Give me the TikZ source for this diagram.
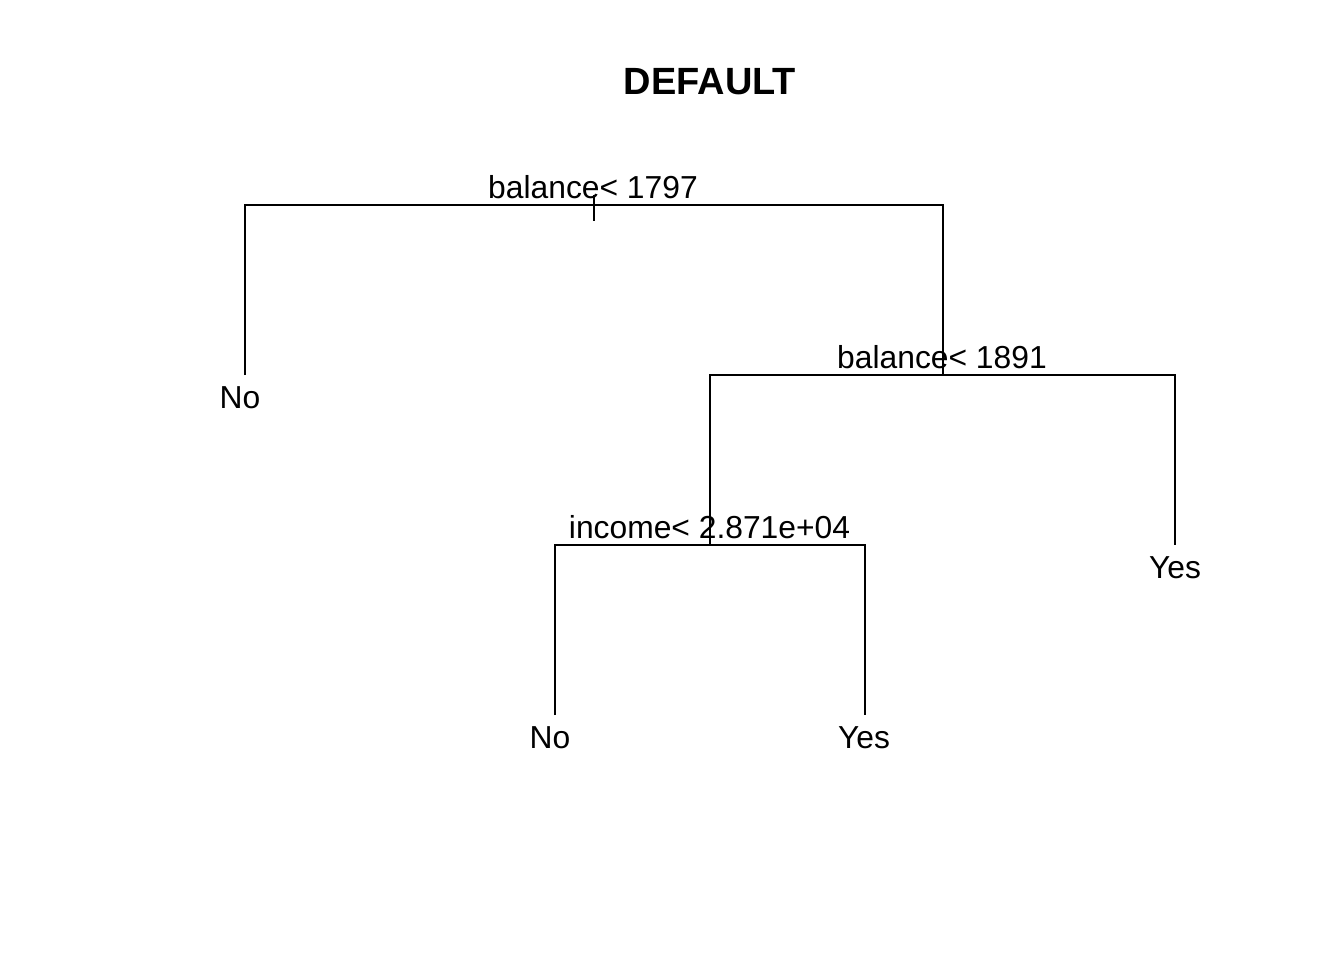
\documentclass[tikz,border=0pt]{standalone}
\usepackage{fontspec}
\setmainfont{Liberation Sans}
\usepackage{tikz}

\begin{document}
\begin{tikzpicture}[x=0.02cm,y=-0.02cm,line width=1.1pt,
  split/.style={anchor=base,inner sep=0pt,font=\fontsize{18.1}{21}\selectfont},
  leaf/.style={anchor=base,inner sep=0pt,font=\fontsize{18.1}{21}\selectfont}] %sets scale and styles
   \useasboundingbox (0,0) rectangle (1344,960); % page size
   \node[anchor=base,inner sep=0pt,font=\bfseries\fontsize{21.6}{25}\selectfont] (title) at (710,94) {DEFAULT};
   % split points of the tree
   \coordinate (s1) at (594,205);
   \coordinate (s2) at (943,375);
   \coordinate (s3) at (710,545);
   % ends of the leaves
   \coordinate (no1) at (245,375);
   \coordinate (yes1) at (1175,545);
   \coordinate (no2) at (555,715);
   \coordinate (yes2) at (865,715);
   \draw (no1) |- (s1) -| (s2); %root split
   \draw (s3) |- (s2) -| (yes1); %second split
   \draw (no2) |- (s3) -| (yes2); %third split
   \draw (s1) ++(0,-10) -- ++(0,26); %root tick
   % labels of the splits
   \node[split] (l1) at (593,198) {balance< 1797};
   \node[split] (l2) at (942,368) {balance< 1891};
   \node[split] (l3) at (709.5,538) {income< 2.871e+04};
   % labels of the leaves
   \node[leaf] (tno1) at (240,408.6) {No};
   \node[leaf] (tyes1) at (1175,578.6) {Yes};
   \node[leaf] (tno2) at (550,748.6) {No};
   \node[leaf] (tyes2) at (864,748.6) {Yes};
\end{tikzpicture}
\end{document}
